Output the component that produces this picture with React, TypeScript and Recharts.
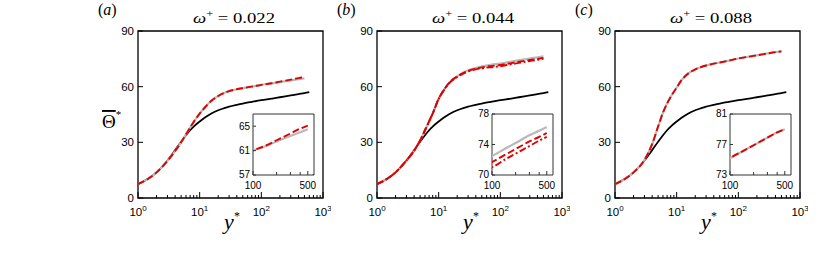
import React from 'react';
import { LineChart, Line, XAxis, YAxis, ReferenceArea } from 'recharts';

// ---------- data ----------
const yPlus = [1, 1.5, 2, 3, 4, 5, 6, 7, 8, 10, 12, 15, 20, 25, 30, 40, 50, 70, 100, 150, 200, 300, 400, 500, 600];

// stationary reference profile (black)
const thetaRef = [7.5, 10.6, 13.8, 20.2, 25.8, 30.3, 33.8, 36.5, 38.5, 41.2, 43.2, 45.3, 47.3, 48.4, 49.2, 50.2, 50.9, 51.8, 52.7, 53.6, 54.3, 55.3, 56.0, 56.5, 57.0];

// (a) omega+ = 0.022
const grayA = [7.5, 10.6, 13.8, 20.0, 25.3, 30.0, 34.3, 38.0, 41.0, 45.5, 48.6, 52.0, 55.0, 56.6, 57.6, 58.6, 59.2, 60.0, 61.0, 61.8, 62.5, 63.4, 64.0, 64.5, null];
const redA = [7.5, 10.6, 13.8, 20.0, 25.3, 30.0, 34.3, 38.0, 41.0, 45.5, 48.6, 52.0, 55.0, 56.6, 57.6, 58.6, 59.2, 60.0, 61.0, 61.9, 62.7, 63.8, 64.6, 65.1, null];

// (b) omega+ = 0.044
const grayB = [7.5, 10.6, 13.8, 20.2, 25.5, 31.0, 36.5, 41.3, 45.5, 53.5, 58.0, 62.3, 65.6, 67.5, 68.8, 70.2, 71.0, 71.8, 72.5, 73.5, 74.2, 75.2, 75.8, 76.3, null];
const redB = [7.5, 10.6, 13.8, 20.2, 25.5, 31.0, 36.5, 41.3, 45.5, 53.5, 58.0, 62.3, 65.5, 67.3, 68.5, 69.7, 70.4, 71.1, 71.7, 72.7, 73.4, 74.4, 75.0, 75.5, null];
const redB2 = [7.5, 10.6, 13.8, 20.2, 25.5, 31.0, 36.5, 41.3, 45.5, 53.3, 57.8, 62.0, 65.2, 67.0, 68.2, 69.3, 69.9, 70.5, 71.0, 72.1, 72.8, 73.8, 74.5, 75.0, null];

// (c) omega+ = 0.088
const grayC = [7.5, 10.6, 13.8, 20.5, 29.0, 38.5, 46.0, 51.0, 54.5, 59.5, 63.5, 66.8, 69.3, 70.6, 71.4, 72.4, 73.0, 74.0, 75.2, 76.2, 76.9, 77.9, 78.6, 79.0, null];
const redC = [7.5, 10.6, 13.8, 20.5, 29.0, 38.5, 46.0, 51.0, 54.5, 59.5, 63.5, 66.8, 69.3, 70.6, 71.4, 72.4, 73.0, 74.0, 75.2, 76.2, 76.9, 77.9, 78.6, 79.0, null];

const panelLetters = ['a', 'b', 'c'];
const omegaLabels = ['0.022', '0.044', '0.088'];
const mainXMajor = [1, 10, 100, 1000];
const mainYTicks = [0, 30, 60, 90];
const insetXLabels = [100, 500];
const insetXTicks = [100, 200, 300, 400, 500];
const insetYTicksA = [57, 61, 65];
const insetYTicksB = [70, 74, 78];
const insetYTicksC = [73, 77, 81];
const insetYDomainA = [57, 67];
const insetYDomainB = [70, 78];
const insetYDomainC = [73, 81];

// ---------- layout ----------
const SANS = '"Liberation Sans", Arial, sans-serif';
const SERIF = '"Liberation Serif", "Times New Roman", serif';
const PLOT_LEFTS = [138, 377, 615];
const PLOT_TOP = 31;
const PLOT_W = 185;
const PLOT_H = 167;
const Y_AXIS_W = 30;
const X_AXIS_H = 30;
const M_TOP = 8;
const M_RIGHT = 8;

const INSET_DX = 115;
const INSET_TOP = 114;
const INSET_W = 61;
const INSET_H = 61;
const IY_W = 22;
const IX_H = 20;
const I_MT = 8;
const I_MR = 6;

const RED = '#e10000';
const GRAY = '#b9b9b9';
const DASHES = ['7 3', '7 2.5 2 2.5'];

const mainXAll: number[] = [];
mainXMajor.forEach((m, i) => {
  if (i < mainXMajor.length - 1) {
    for (let k = 1; k <= 9; k++) mainXAll.push(m * k);
  } else mainXAll.push(m);
});

const panels = [
  { gray: grayA, reds: [redA], iTicks: insetYTicksA, iDom: insetYDomainA },
  { gray: grayB, reds: [redB, redB2], iTicks: insetYTicksB, iDom: insetYDomainB },
  { gray: grayC, reds: [redC], iTicks: insetYTicksC, iDom: insetYDomainC },
];

function buildRows(p: any) {
  return yPlus.map((y, i) => {
    const r: any = { y, ref: thetaRef[i], gray: p.gray[i] };
    p.reds.forEach((s: any[], k: number) => (r['r' + k] = s[i]));
    return r;
  });
}

const isPow10 = (v: number) => Math.abs(Math.log10(v) - Math.round(Math.log10(v))) < 1e-9;

const MainXTick = (props: any) => {
  const { x, y, payload } = props;
  const v = payload.value;
  const major = isPow10(v);
  const e = Math.round(Math.log10(v));
  return (
    <g>
      <line x1={x} x2={x} y1={y} y2={y - (major ? 6 : 3)} stroke="#000" strokeWidth={1} />
      {major && (
        <text x={x} y={y + 18} textAnchor="middle" fontSize={11.5} fontFamily={SANS} fill="#000">
          10<tspan fontSize={8} dy={-5}>{e}</tspan>
        </text>
      )}
    </g>
  );
};

const MainYTick = (props: any) => {
  const { x, y, payload } = props;
  return (
    <g>
      <line x1={x} x2={x + 5} y1={y} y2={y} stroke="#000" strokeWidth={1} />
      <text x={x - 4} y={y} dy="0.36em" textAnchor="end" fontSize={11.5} fontFamily={SANS} fill="#000">
        {payload.value}
      </text>
    </g>
  );
};

const InsetXTick = (props: any) => {
  const { x, y, payload } = props;
  const lab = insetXLabels.includes(payload.value);
  return (
    <g>
      <line x1={x} x2={x} y1={y} y2={y - (lab ? 4 : 3)} stroke="#333" strokeWidth={1} />
      {lab && (
        <text x={x} y={y + 13.5} textAnchor="middle" fontSize={10} fontFamily={SANS} fill="#000">
          {payload.value}
        </text>
      )}
    </g>
  );
};

const InsetYTick = (props: any) => {
  const { x, y, payload } = props;
  return (
    <g>
      <line x1={x} x2={x + 3} y1={y} y2={y} stroke="#333" strokeWidth={1} />
      <text x={x - 3} y={y} dy="0.33em" textAnchor="end" fontSize={10} fontFamily={SANS} fill="#000">
        {payload.value}
      </text>
    </g>
  );
};

function renderLines(p: any) {
  return [
    <Line key="ref" dataKey="ref" type="monotone" stroke="#000" strokeWidth={1.8} dot={false} isAnimationActive={false} />,
    <Line key="gray" dataKey="gray" type="monotone" stroke={GRAY} strokeWidth={2.2} dot={false} isAnimationActive={false} />,
    ...p.reds.map((_: any, k: number) => (
      <Line
        key={'r' + k}
        dataKey={'r' + k}
        type="monotone"
        stroke={RED}
        strokeWidth={1.9}
        strokeDasharray={DASHES[k]}
        dot={false}
        isAnimationActive={false}
      />
    )),
  ];
}

function Panel({ p, plotLeft }: any) {
  const rows = buildRows(p);
  const insetLeft = plotLeft + INSET_DX;
  return (
    <>
      <div style={{ position: 'absolute', left: plotLeft - Y_AXIS_W, top: PLOT_TOP - M_TOP }}>
        <LineChart
          width={Y_AXIS_W + PLOT_W + M_RIGHT}
          height={M_TOP + PLOT_H + X_AXIS_H}
          data={rows}
          margin={{ top: M_TOP, right: M_RIGHT, bottom: 0, left: 0 }}
        >
          <XAxis
            dataKey="y"
            type="number"
            scale="log"
            domain={[1, 1000]}
            allowDataOverflow
            ticks={mainXAll}
            interval={0}
            tick={MainXTick}
            tickSize={0}
            tickMargin={0}
            axisLine={false}
            height={X_AXIS_H}
          />
          <YAxis
            type="number"
            domain={[0, 90]}
            ticks={mainYTicks}
            interval={0}
            tick={MainYTick}
            tickSize={0}
            tickMargin={0}
            axisLine={false}
            width={Y_AXIS_W}
          />
          <ReferenceArea x1={1} x2={1000} y1={0} y2={90} fill="none" stroke="#000" strokeWidth={1.3} />
          {renderLines(p)}
        </LineChart>
      </div>
      <div
        style={{ position: 'absolute', left: insetLeft, top: INSET_TOP, width: INSET_W, height: INSET_H, background: '#fff' }}
      />
      <div style={{ position: 'absolute', left: insetLeft - IY_W, top: INSET_TOP - I_MT }}>
        <LineChart
          width={IY_W + INSET_W + I_MR}
          height={I_MT + INSET_H + IX_H}
          data={rows}
          margin={{ top: I_MT, right: I_MR, bottom: 0, left: 0 }}
        >
          <XAxis
            dataKey="y"
            type="number"
            scale="log"
            domain={[100, 600]}
            allowDataOverflow
            ticks={insetXTicks}
            interval={0}
            tick={InsetXTick}
            tickSize={0}
            tickMargin={0}
            axisLine={false}
            height={IX_H}
          />
          <YAxis
            type="number"
            domain={p.iDom}
            allowDataOverflow
            ticks={p.iTicks}
            interval={0}
            tick={InsetYTick}
            tickSize={0}
            tickMargin={0}
            axisLine={false}
            width={IY_W}
          />
          <ReferenceArea x1={100} x2={600} y1={p.iDom[0]} y2={p.iDom[1]} fill="none" stroke="#333" strokeWidth={1} />
          {renderLines(p)}
        </LineChart>
      </div>
    </>
  );
}

export default function App() {
  return (
    <div style={{ position: 'absolute', left: 0, top: 0, width: 830, height: 278, background: '#fff', overflow: 'hidden' }}>
      {panels.map((p, i) => (
        <Panel key={i} p={p} plotLeft={PLOT_LEFTS[i]} />
      ))}
      <svg width={830} height={278} style={{ position: 'absolute', left: 0, top: 0, pointerEvents: 'none' }}>
        {PLOT_LEFTS.map((L, i) => (
          <g key={i}>
            <text x={L - 40} y={15} fontSize={16} fontFamily={SERIF} fill="#000">
              (<tspan fontStyle="italic">{panelLetters[i]}</tspan>)
            </text>
            <text
              x={L + 96}
              y={23}
              textAnchor="middle"
              fontSize={15}
              fontFamily={SERIF}
              fill="#000"
              textLength={82}
              lengthAdjust="spacingAndGlyphs"
            >
              <tspan fontStyle="italic">ω</tspan>
              <tspan fontSize={10} dy={-6}>+</tspan>
              <tspan dy={6}> = {omegaLabels[i]}</tspan>
            </text>
            <text x={L + 94} y={229} textAnchor="middle" fontSize={22} fontFamily={SERIF} fill="#000">
              <tspan fontStyle="italic">y</tspan>
              <tspan fontSize={12} dy={-9}>*</tspan>
            </text>
          </g>
        ))}
        <text x={102} y={128} fontSize={19} fontFamily={SERIF} fill="#000">
          <tspan style={{ textDecoration: 'overline' }}>Θ</tspan>
          <tspan fontSize={11} dy={-10}>*</tspan>
        </text>
      </svg>
    </div>
  );
}
